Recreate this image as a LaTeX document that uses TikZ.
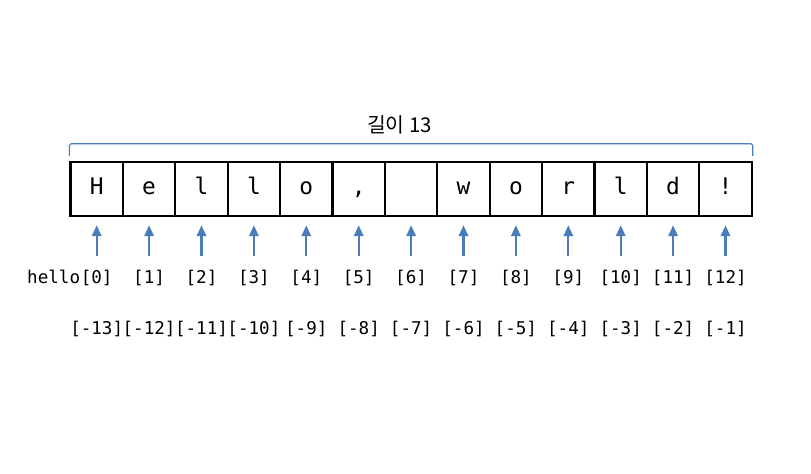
\documentclass[tikz,border=0pt]{standalone}
\usepackage{fontspec}
\newfontfamily\monofont{DejaVu Sans Mono}
\newfontfamily\krfont{Noto Sans CJK KR}
\usepackage{tikz}
\usetikzlibrary{arrows.meta,positioning,calc}
\definecolor{arrowblue}{RGB}{74,126,187}

\begin{document}
\begin{tikzpicture}[>={Triangle[length=2.2mm,width=1.9mm]},
		cell/.style={draw=black, line width=1.2pt, minimum width=1.048cm, minimum height=1.068cm, inner sep=0pt, text height=6.2pt, text depth=-6.2pt, font=\monofont\fontsize{13}{13}\selectfont},
		idx/.style={inner sep=0pt, font=\monofont\fontsize{10}{10}\selectfont},
		up/.style={arrowblue, line width=1.2pt, ->, shorten <=0.26cm, shorten >=0.17cm}]
		\fill [white] (0,0) rectangle (16.22,9.48);
		\useasboundingbox (0,0) rectangle (16.22,9.48);

		% the string, one cell per character
		\node (c0) at (1.934,5.70) [cell] {H};
		\node (c1) at (2.982,5.70) [cell] {e};
		\node (c2) at (4.030,5.70) [cell] {l};
		\node (c3) at (5.078,5.70) [cell] {l};
		\node (c4) at (6.126,5.70) [cell] {o};
		\node (c5) at (7.174,5.70) [cell] {,};
		\node (c6) at (8.222,5.70) [cell] {};
		\node (c7) at (9.270,5.70) [cell] {w};
		\node (c8) at (10.318,5.70) [cell] {o};
		\node (c9) at (11.366,5.70) [cell] {r};
		\node (c10) at (12.414,5.70) [cell] {l};
		\node (c11) at (13.462,5.70) [cell] {d};
		\node (c12) at (14.510,5.70) [cell] {!};

		\draw [arrowblue, line width = 0.6pt, rounded corners=1pt] ([yshift=0.1cm]c0.north west) |- ([yshift=0.35cm]c12.north east) -- ([yshift=0.1cm]c12.north east);
		\node (len) at (7.99,6.99) [font=\krfont\fontsize{11.6}{11.6}\selectfont] {길이 13};

		% positive indices
		\node (k0) at (1.934,3.93) [idx] {[0]};
		\node (hello) at (k0.base west) [idx, anchor=base east] {hello};
		\node (k1) at (2.982,3.93) [idx] {[1]};
		\node (k2) at (4.030,3.93) [idx] {[2]};
		\node (k3) at (5.078,3.93) [idx] {[3]};
		\node (k4) at (6.126,3.93) [idx] {[4]};
		\node (k5) at (7.174,3.93) [idx] {[5]};
		\node (k6) at (8.222,3.93) [idx] {[6]};
		\node (k7) at (9.270,3.93) [idx] {[7]};
		\node (k8) at (10.318,3.93) [idx] {[8]};
		\node (k9) at (11.366,3.93) [idx] {[9]};
		\node (k10) at (12.414,3.93) [idx] {[10]};
		\node (k11) at (13.462,3.93) [idx] {[11]};
		\node (k12) at (14.510,3.93) [idx] {[12]};

		% negative indices
		\node (m0) at (1.934,2.90) [idx] {[-13]};
		\node (m1) at (2.982,2.90) [idx] {[-12]};
		\node (m2) at (4.030,2.90) [idx] {[-11]};
		\node (m3) at (5.078,2.90) [idx] {[-10]};
		\node (m4) at (6.126,2.90) [idx] {[-9]};
		\node (m5) at (7.174,2.90) [idx] {[-8]};
		\node (m6) at (8.222,2.90) [idx] {[-7]};
		\node (m7) at (9.270,2.90) [idx] {[-6]};
		\node (m8) at (10.318,2.90) [idx] {[-5]};
		\node (m9) at (11.366,2.90) [idx] {[-4]};
		\node (m10) at (12.414,2.90) [idx] {[-3]};
		\node (m11) at (13.462,2.90) [idx] {[-2]};
		\node (m12) at (14.510,2.90) [idx] {[-1]};

		\draw [up] (k0) edge (c0) (k1) edge (c1) (k2) edge (c2) (k3) edge (c3) (k4) edge (c4) (k5) edge (c5) (k6) edge (c6)
			(k7) edge (c7) (k8) edge (c8) (k9) edge (c9) (k10) edge (c10) (k11) edge (c11) (k12) edge (c12);
	\end{tikzpicture}
\end{document}
